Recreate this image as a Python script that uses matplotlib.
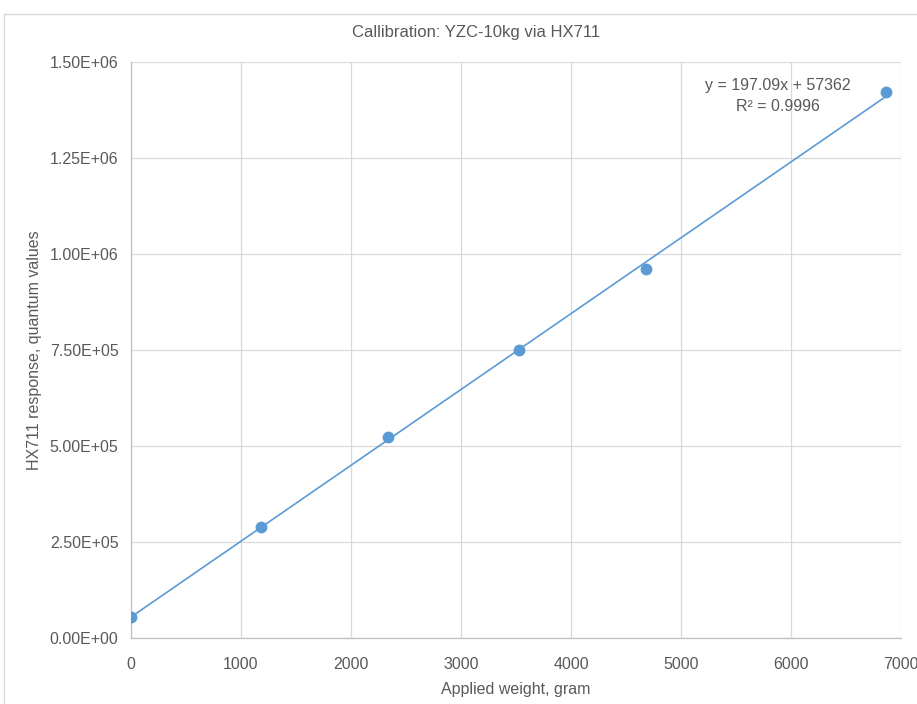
import matplotlib.pyplot as plt
import numpy as np
from matplotlib.patches import Rectangle

plt.rcParams["font.family"] = ["Liberation Sans", "DejaVu Sans"]

# measured points: applied weight (gram) vs HX711 reading
weight_g = [0, 1182, 2336, 3527, 4682, 6864]
response = [55000, 290000, 523000, 750000, 961000, 1421000]

title = "Callibration: YZC-10kg via HX711"
x_label = "Applied weight, gram"
y_label = "HX711 response, quantum values"
x_ticks = [0, 1000, 2000, 3000, 4000, 5000, 6000, 7000]
y_ticks = [0, 250000, 500000, 750000, 1000000, 1250000, 1500000]

blue = "#5B9BD5"
text_grey = "#595959"
grid_grey = "#D9D9D9"

fig = plt.figure(figsize=(9.17, 7.04), dpi=100)
ax = fig.add_axes([131 / 917, 1 - 638 / 704, 770 / 917, 576 / 704])

# chart frame (cropped at right/bottom like the screenshot)
fig.patches.append(Rectangle((4 / 917, -0.1), 1.1, 1 - 14 / 704 + 0.1,
                             transform=fig.transFigure, fill=False,
                             edgecolor=grid_grey, linewidth=1.0))

# linear trendline
slope, intercept = np.polyfit(weight_g, response, 1)
xs = np.array([min(weight_g), max(weight_g)])
ax.plot(xs, slope * xs + intercept, color=blue, linewidth=1.2, zorder=3)
ax.plot(weight_g, response, "o", color=blue, markersize=7.5, zorder=4)

ax.set_xlim(0, 7000)
ax.set_ylim(0, 1500000)
ax.set_xticks(x_ticks)
ax.set_yticks(y_ticks)
ax.set_yticklabels([f"{v:.2E}" for v in y_ticks])
ax.tick_params(length=0, labelsize=11.5, colors=text_grey)
ax.tick_params(axis="y", pad=9)
ax.tick_params(axis="x", pad=14)
ax.grid(True, color=grid_grey, linewidth=0.9)
ax.set_axisbelow(True)
for side in ["top", "right"]:
    ax.spines[side].set_visible(False)
for side in ["left", "bottom"]:
    ax.spines[side].set_color("#BFBFBF")
    ax.spines[side].set_linewidth(0.9)

ax.set_xlabel(x_label, fontsize=11.5, color=text_grey, labelpad=7)
ax.set_ylabel(y_label, fontsize=11.5, color=text_grey, labelpad=5.5)
fig.text(476 / 917, 1 - 33 / 704, title, ha="center", va="center",
         fontsize=12, color=text_grey)

ax.text(5882, 1440000, "y = 197.09x + 57362", ha="center", va="center",
        fontsize=11.5, color=text_grey)
ax.text(5882, 1383000, "R² = 0.9996", ha="center", va="center",
        fontsize=11.5, color=text_grey)

fig.savefig("out.png", dpi=100)
